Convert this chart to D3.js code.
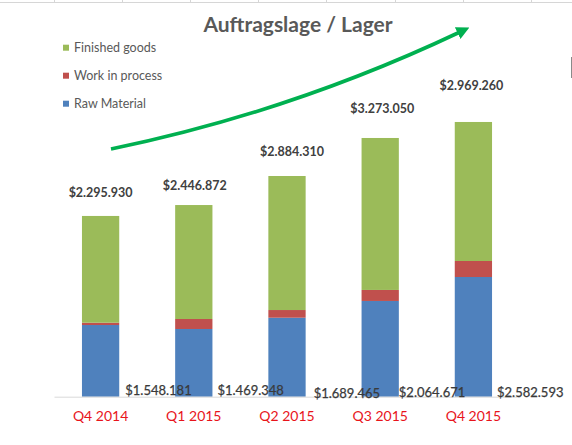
<!DOCTYPE html>
<html>
<head>
<meta charset="utf-8">
<script src="https://cdn.jsdelivr.net/npm/d3@7"></script>
<style>
  body { margin: 0; background: #fff; }
  svg { display: block; }
  text { font-family: Lato, "Open Sans", sans-serif; }
</style>
</head>
<body>
<svg></svg>
<script>
const width = 572;
const height = 445;

// data
const quarters = ["Q4 2014", "Q1 2015", "Q2 2015", "Q3 2015", "Q4 2015"];
const rawMaterial = [775, 732, 854, 1035, 1294];
const workInProcess = [25, 108, 83, 119, 173];
const finishedGoods = [1154, 1232, 1449, 1643, 1503];
const totalLabels = ["$2.295.930", "$2.446.872", "$2.884.310", "$3.273.050", "$2.969.260"];
const bottomLabels = ["$1.548.181", "$1.469.348", "$1.689.465", "$2.064.671", "$2.582.593"];
const seriesNames = ["Raw Material", "Work in process", "Finished goods"];
const colors = ["#4F81BD", "#C0504D", "#9BBB59"];

// layout
const plot = { left: 54, right: 520, bottom: 396.7, top: 119.2 };
const yMax = 3000;
const totalNudge = [[0, -19], [1, -15], [5, -20], [2, -25], [-2, -32]];
const bottomNudge = [[6, -2], [5, -2], [8, 1], [0, 0], [5, 0]];
const arrowPath = [[111, 149], [291, 112], [468, 28]];

const svg = d3.select("svg").attr("width", width).attr("height", height);

// spreadsheet cell borders behind the chart
svg.append("line")
  .attr("x1", 0).attr("x2", width).attr("y1", 2.5).attr("y2", 2.5)
  .attr("stroke", "#d6d6d6");
d3.range(54, width, 68.1).forEach((x) => {
  svg.append("line")
    .attr("x1", Math.round(x) + 0.5).attr("x2", Math.round(x) + 0.5)
    .attr("y1", 0).attr("y2", 3)
    .attr("stroke", "#d6d6d6");
});
svg.append("line")
  .attr("x1", 571.5).attr("x2", 571.5).attr("y1", 57).attr("y2", 78)
  .attr("stroke", "#8a8a8a");

const xScale = d3.scaleBand()
  .domain(quarters)
  .range([plot.left, plot.right])
  .paddingInner(0.6)
  .paddingOuter(0.3);

const yScale = d3.scaleLinear()
  .domain([0, yMax])
  .range([plot.bottom, plot.top]);

const table = quarters.map((q, i) => ({
  quarter: q,
  "Raw Material": rawMaterial[i],
  "Work in process": workInProcess[i],
  "Finished goods": finishedGoods[i],
}));

const stacked = d3.stack().keys(seriesNames)(table);

svg.append("g")
  .selectAll("g")
  .data(stacked)
  .join("g")
  .attr("fill", (d, i) => colors[i])
  .selectAll("rect")
  .data((d) => d)
  .join("rect")
  .attr("x", (d) => xScale(d.data.quarter))
  .attr("width", xScale.bandwidth())
  .attr("y", (d) => yScale(d[1]))
  .attr("height", (d) => yScale(d[0]) - yScale(d[1]));

// category axis
const xAxis = svg.append("g")
  .attr("transform", `translate(0, ${plot.bottom})`)
  .call(d3.axisBottom(xScale).tickSize(0).tickPadding(14));
xAxis.select(".domain").attr("stroke", "#d9d9d9");
xAxis.selectAll("text")
  .attr("fill", "#E8141B")
  .attr("font-size", 14)
  .attr("font-family", "Lato, sans-serif");

// total labels above bars
const topOf = (i) => yScale(rawMaterial[i] + workInProcess[i] + finishedGoods[i]);
svg.append("g")
  .selectAll("text")
  .data(totalLabels)
  .join("text")
  .attr("x", (d, i) => xScale(quarters[i]) + xScale.bandwidth() / 2 + totalNudge[i][0])
  .attr("y", (d, i) => topOf(i) + totalNudge[i][1])
  .attr("text-anchor", "middle")
  .attr("font-size", 12.5)
  .attr("font-weight", "bold")
  .attr("fill", "#404040")
  .text((d) => d);

// labels at the foot of each bar
svg.append("g")
  .selectAll("text")
  .data(bottomLabels)
  .join("text")
  .attr("x", (d, i) => xScale(quarters[i]) + xScale.bandwidth() + bottomNudge[i][0])
  .attr("y", (d, i) => plot.bottom + bottomNudge[i][1])
  .attr("font-size", 13)
  .attr("fill", "#3a3a3a")
  .attr("stroke", "#3a3a3a")
  .attr("stroke-width", 0.25)
  .text((d) => d);

// title
svg.append("text")
  .attr("x", 298)
  .attr("y", 32)
  .attr("text-anchor", "middle")
  .attr("font-size", 21)
  .attr("font-weight", "bold")
  .attr("fill", "#595959")
  .text("Auftragslage / Lager");

// legend (reversed order, top to bottom)
const legend = svg.append("g")
  .selectAll("g")
  .data(seriesNames.slice().reverse())
  .join("g")
  .attr("transform", (d, i) => `translate(63, ${47.7 + i * 28})`);
legend.append("rect")
  .attr("x", 0).attr("y", -3)
  .attr("width", 6).attr("height", 6)
  .attr("fill", (d) => colors[seriesNames.indexOf(d)]);
legend.append("text")
  .attr("x", 11)
  .attr("y", 0)
  .attr("dy", "0.35em")
  .attr("font-size", 12.5)
  .attr("fill", "#595959")
  .text((d) => d);

// green trend arrow
svg.append("defs").append("marker")
  .attr("id", "head")
  .attr("viewBox", "0 0 10 10")
  .attr("refX", 2).attr("refY", 5)
  .attr("markerWidth", 3.6).attr("markerHeight", 3.6)
  .attr("orient", "auto")
  .append("path")
  .attr("d", "M0,0 L10,5 L0,10 Z")
  .attr("fill", "#00B050");

const p = d3.path();
p.moveTo(arrowPath[0][0], arrowPath[0][1]);
p.quadraticCurveTo(arrowPath[1][0], arrowPath[1][1], arrowPath[2][0] - 8, arrowPath[2][1] + 4);
svg.append("path")
  .attr("d", p.toString())
  .attr("fill", "none")
  .attr("stroke", "#00B050")
  .attr("stroke-width", 3.6)
  .attr("marker-end", "url(#head)");
</script>
</body>
</html>
